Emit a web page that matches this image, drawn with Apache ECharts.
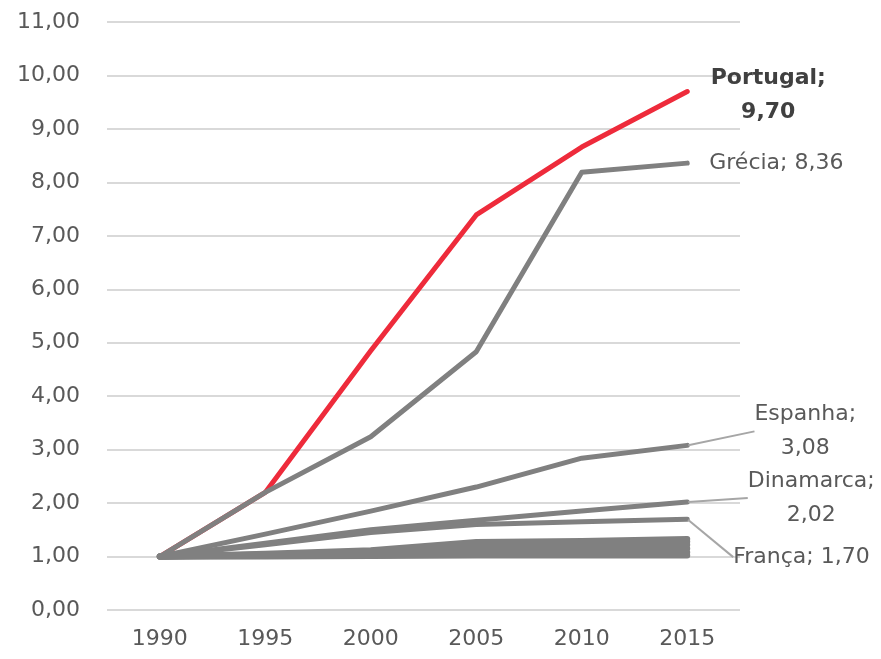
<!DOCTYPE html>
<html>
<head>
<meta charset="utf-8">
<script src="https://cdn.jsdelivr.net/npm/echarts@6/dist/echarts.min.js"></script>
<style>
  html, body { margin: 0; padding: 0; background: #fff; }
  #chart { width: 881px; height: 659px; }
</style>
</head>
<body>
<div id="chart"></div>
<script>
// anos
var years = ["1990", "1995", "2000", "2005", "2010", "2015"];

// países com rótulo
var portugal  = [1.00, 2.20, 4.85, 7.39, 8.66, 9.70];
var grecia    = [1.00, 2.20, 3.24, 4.83, 8.19, 8.36];
var espanha   = [1.00, 1.42, 1.85, 2.30, 2.84, 3.08];
var dinamarca = [1.00, 1.25, 1.50, 1.68, 1.85, 2.02];
var franca    = [1.00, 1.22, 1.45, 1.60, 1.65, 1.70];

// restantes países (sem rótulo)
var outros = [
    [1.00, 1.05, 1.12, 1.27, 1.29, 1.33],
    [1.00, 1.04, 1.08, 1.20, 1.24, 1.28],
    [1.00, 1.03, 1.06, 1.15, 1.18, 1.22],
    [1.00, 1.02, 1.04, 1.10, 1.12, 1.15],
    [1.00, 1.01, 1.02, 1.05, 1.06, 1.08],
    [1.00, 1.00, 1.01, 1.02, 1.02, 1.02]
];

var FONT = "DejaVu Sans";
var GREY = "#808080";
var TXT = "#595959";

function fmt(v) { return v.toFixed(2).replace(".", ","); }

// só o último ponto leva rótulo
function lastLabel(arr, color, labelOpt) {
    return arr.map(function (v, i) {
        if (i < arr.length - 1) return v;
        return {
            value: v,
            symbol: "circle",
            symbolSize: 2,
            itemStyle: { color: color },
            label: Object.assign({
                show: true,
                fontFamily: FONT,
                fontSize: 22,
                color: TXT,
                lineHeight: 34,
                formatter: labelOpt.text
            }, labelOpt.style || {})
        };
    });
}

function lineSeries(name, data, color, width, z) {
    return {
        name: name,
        type: "line",
        data: data,
        symbol: "none",
        showSymbol: true,
        z: z,
        lineStyle: { color: color, width: width, cap: "round", join: "round" },
        label: { show: false },
        emphasis: { disabled: true }
    };
}

var series = [];

var sPt = lineSeries("Portugal", lastLabel(portugal, "#ee2b3b", {
    text: "Portugal;\n" + fmt(portugal[5]),
    style: { fontWeight: "bold", color: "#404040", align: "center", position: "right", distance: 0 }
}), "#ee2b3b", 5, 2);
sPt.labelLayout = { dx: 80, dy: 4 };
series.push(sPt);

outros.forEach(function (arr, i) {
    series.push(lineSeries("Outro " + (i + 1), arr, GREY, 6, 3));
});

var sFr = lineSeries("França", lastLabel(franca, GREY, {
    text: "França; " + fmt(franca[5]),
    style: { position: "right", distance: 45 }
}), GREY, 5, 3);
sFr.labelLayout = { dy: 38 };
sFr.labelLine = { show: true, lineStyle: { color: "#a6a6a6", width: 2 } };
series.push(sFr);

var sDk = lineSeries("Dinamarca", lastLabel(dinamarca, GREY, {
    text: "Dinamarca;\n" + fmt(dinamarca[5]),
    style: { position: "right", distance: 55, align: "center" }
}), GREY, 5, 3);
sDk.labelLayout = { dx: 68, dy: -4 };
sDk.labelLine = { show: true, lineStyle: { color: "#a6a6a6", width: 2 } };
series.push(sDk);

var sEs = lineSeries("Espanha", lastLabel(espanha, GREY, {
    text: "Espanha;\n" + fmt(espanha[5]),
    style: { position: "right", distance: 55, align: "center" }
}), GREY, 5, 3);
sEs.labelLayout = { dx: 62, dy: -14 };
sEs.labelLine = { show: true, lineStyle: { color: "#a6a6a6", width: 2 } };
series.push(sEs);

series.push(lineSeries("Grécia", lastLabel(grecia, GREY, {
    text: "Grécia; " + fmt(grecia[5]),
    style: { position: "right", distance: 21 }
}), GREY, 5, 4));

var chart = echarts.init(document.getElementById("chart"));
chart.setOption({
    animation: false,
    backgroundColor: "#fff",
    grid: { left: 107, right: 141, top: 22, bottom: 49, containLabel: false },
    xAxis: {
        type: "category",
        data: years,
        boundaryGap: true,
        axisLine: { show: false },
        axisTick: { show: false },
        axisLabel: { color: TXT, fontFamily: FONT, fontSize: 22, margin: 18 }
    },
    yAxis: {
        type: "value",
        min: 0,
        max: 11,
        interval: 1,
        axisLine: { show: false },
        axisTick: { show: false },
        splitLine: { lineStyle: { color: "#d9d9d9", width: 2 } },
        axisLabel: {
            color: TXT, fontFamily: FONT, fontSize: 22, margin: 27,
            formatter: function (v) { return fmt(v); }
        }
    },
    series: series
});
</script>
</body>
</html>
